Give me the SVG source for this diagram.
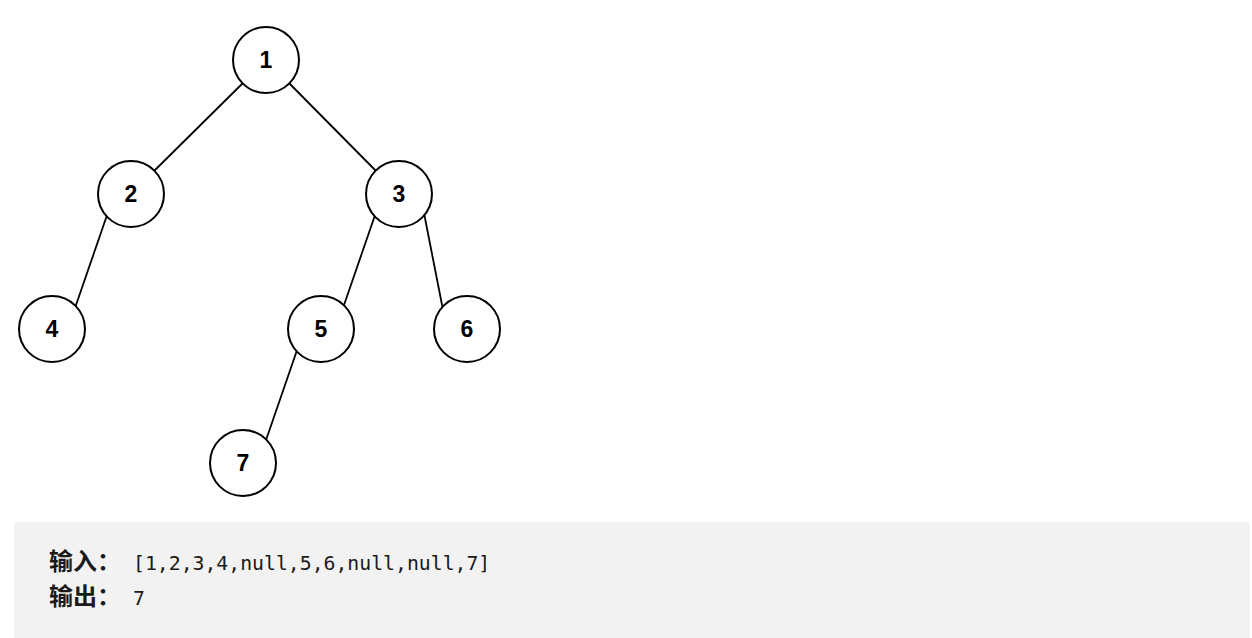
<svg xmlns="http://www.w3.org/2000/svg" width="1252" height="638" viewBox="0 0 1252 638">
<style>
.n circle{fill:#fff;stroke:#000;stroke-width:2}
.n text{font-family:"Liberation Sans",Arial,sans-serif;font-weight:bold;font-size:23px;text-anchor:middle;dominant-baseline:central;fill:#000}
.e line{stroke:#000;stroke-width:1.8}
.cjk{font-family:"Noto Sans CJK SC",sans-serif;font-weight:bold;font-size:24px}
.mono{font-family:"DejaVu Sans Mono",monospace;font-size:19.8px}
.box text{fill:#1a1a1a}
</style>
<rect width="1252" height="638" fill="#fff"/>
<g class="e" id="edges">
<line x1="247" y1="79" x2="150" y2="175"/>
<line x1="285" y1="79" x2="380" y2="175"/>
<line x1="108.8" y1="210" x2="74.3" y2="310"/>
<line x1="376.8" y1="210" x2="342.3" y2="310"/>
<line x1="423.4" y1="210" x2="444" y2="315"/>
<line x1="298.8" y1="345" x2="264.3" y2="445"/>
</g>
<g class="n" id="n1"><circle cx="266" cy="60" r="33"/><text x="266" y="60">1</text></g>
<g class="n" id="n2"><circle cx="131" cy="194" r="33"/><text x="131" y="194">2</text></g>
<g class="n" id="n3"><circle cx="399" cy="194" r="33"/><text x="399" y="194">3</text></g>
<g class="n" id="n4"><circle cx="52" cy="329" r="33"/><text x="52" y="329">4</text></g>
<g class="n" id="n5"><circle cx="321" cy="329" r="33"/><text x="321" y="329">5</text></g>
<g class="n" id="n6"><circle cx="467" cy="329" r="33"/><text x="467" y="329">6</text></g>
<g class="n" id="n7"><circle cx="243" cy="463" r="33"/><text x="243" y="463">7</text></g>
<g class="box" id="io">
<rect x="14" y="522" width="1236" height="130" rx="4" fill="#f2f2f2"/>
<text y="570"><tspan x="49" class="cjk">输入：</tspan><tspan x="133" class="mono">[1,2,3,4,null,5,6,null,null,7]</tspan></text>
<text y="605"><tspan x="49" class="cjk">输出：</tspan><tspan x="133" class="mono">7</tspan></text>
</g>
</svg>
